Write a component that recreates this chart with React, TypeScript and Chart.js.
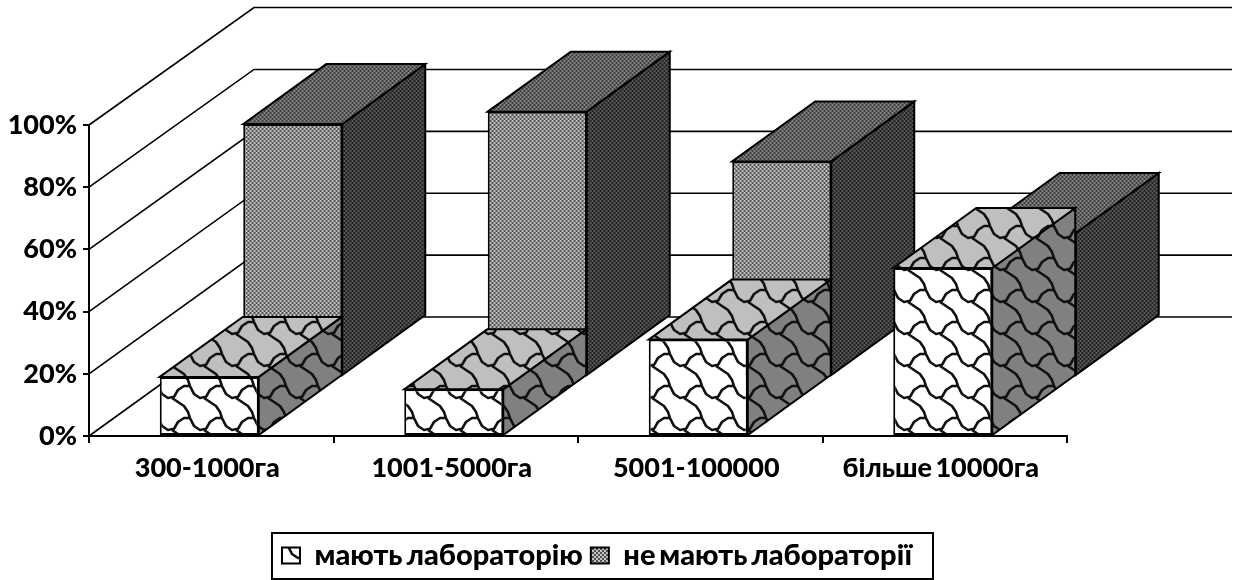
import React, { useEffect, useRef } from "react";
import { Chart, registerables } from "chart.js";

Chart.register(...registerables);

const categories = ["300-1000га", "1001-5000га", "5001-100000", "більше 10000га"];
const seriesNames = ["мають лабораторію", "не мають лабораторії"];
const haveLab = [19, 15, 31, 54];
const noLab = [81, 85, 69, 46];
const yTicks = [0, 20, 40, 60, 80, 100];

const FONT = "Lato, 'Open Sans', sans-serif";
const WEIGHT = 900;
const DEPTH_X = 83;
const DEPTH_Y = 60;
const INK = "#000000";

function tile(w: number, h: number, draw: (c: CanvasRenderingContext2D) => void) {
  const cv = document.createElement("canvas");
  cv.width = w;
  cv.height = h;
  const c = cv.getContext("2d")!;
  draw(c);
  return c.createPattern(cv, "repeat")!;
}

function shingle(bg: string) {
  const S = 32;
  const u = S / 8;
  return tile(S, S, (c) => {
    c.fillStyle = bg;
    c.fillRect(0, 0, S, S);
    c.strokeStyle = "#111";
    c.lineWidth = 2.6;
    c.lineJoin = "round";
    for (const ox of [-S, 0, S]) {
      for (const oy of [-S, 0, S]) {
        c.beginPath();
        c.moveTo(ox + 8 * u, oy + 0.5 * u);
        c.lineTo(ox + 6.5 * u, oy + 0.5 * u);
        c.lineTo(ox + 5 * u, oy + 1.5 * u);
        c.lineTo(ox + 4 * u, oy + 3.2 * u);
        c.lineTo(ox + 2.5 * u, oy + 3.5 * u);
        c.lineTo(ox + 1 * u, oy + 2.5 * u);
        c.lineTo(ox + 0 * u, oy + 0.5 * u);
        c.stroke();
        c.beginPath();
        c.moveTo(ox + 3.5 * u, oy + 3.5 * u);
        c.lineTo(ox + 5 * u, oy + 4.5 * u);
        c.lineTo(ox + 6.5 * u, oy + 5.5 * u);
        c.lineTo(ox + 7.5 * u, oy + 7 * u);
        c.lineTo(ox + 8 * u, oy + 8.5 * u);
        c.stroke();
      }
    }
  });
}

function dots(bg: string, fg: string) {
  return tile(4, 4, (c) => {
    c.fillStyle = bg;
    c.fillRect(0, 0, 4, 4);
    c.fillStyle = fg;
    c.fillRect(0, 0, 2, 2);
    c.fillRect(2, 2, 2, 2);
  });
}

export default function App() {
  const ref = useRef<HTMLCanvasElement>(null);

  useEffect(() => {
    document.body.style.margin = "0";
    const faces = [
      { front: shingle("#ffffff"), top: shingle("#bfbfbf"), side: shingle("#808080"), dx: -2, dy: 0 },
      { front: dots("#c4c4c4", "#505050"), top: dots("#848484", "#3c3c3c"), side: dots("#585858", "#222222"), dx: DEPTH_X - 1.5, dy: -DEPTH_Y },
    ];

    const poly = (c: CanvasRenderingContext2D, pts: number[][], fill: CanvasPattern) => {
      c.beginPath();
      pts.forEach((p, i) => (i ? c.lineTo(p[0], p[1]) : c.moveTo(p[0], p[1])));
      c.closePath();
      c.fillStyle = fill;
      c.fill();
      c.strokeStyle = INK;
      c.lineWidth = 2;
      c.lineJoin = "miter";
      c.stroke();
    };

    const plugin = {
      id: "depth3d",
      beforeDraw(chart: any) {
        (chart.ctx as any).wordSpacing = "-3px";
      },
      afterLayout(chart: any) {
        const lg = chart.legend;
        lg.left += 68;
        lg.right += 68;
        lg.adjustHitBoxes();
      },
      beforeDatasetsDraw(chart: any) {
        const c: CanvasRenderingContext2D = chart.ctx;
        const { y, x } = chart.scales;
        c.save();
        c.strokeStyle = INK;
        c.lineWidth = 1.6;
        yTicks.forEach((t) => {
          const py = y.getPixelForValue(t);
          const by = 317 - (y.bottom - py) * 0.995;
          c.beginPath();
          c.moveTo(x.left, py);
          c.lineTo(x.left + 165, by);
          c.lineTo(1232, by);
          c.stroke();
        });
        c.restore();
      },
      beforeDatasetDraw(chart: any, args: any) {
        const c: CanvasRenderingContext2D = chart.ctx;
        const f = faces[args.index];
        c.save();
        c.translate(f.dx, f.dy);
        args.meta.data.forEach((bar: any) => {
          const { x, y, width, base } = bar.getProps(["x", "y", "width", "base"], true);
          const l = x - width / 2;
          const r = x + width / 2;
          poly(c, [[r, y], [r + DEPTH_X, y - DEPTH_Y], [r + DEPTH_X, base - DEPTH_Y], [r, base]], f.side);
          poly(c, [[l, y], [l + DEPTH_X, y - DEPTH_Y], [r + DEPTH_X, y - DEPTH_Y], [r, y]], f.top);
        });
      },
      afterDatasetDraw(chart: any) {
        chart.ctx.restore();
      },
      afterDraw(chart: any) {
        const lg = chart.legend;
        const c: CanvasRenderingContext2D = chart.ctx;
        const first = lg.legendHitBoxes[0];
        const last = lg.legendHitBoxes[lg.legendHitBoxes.length - 1];
        const left = first.left - 10;
        c.save();
        c.strokeStyle = INK;
        c.lineWidth = 2;
        c.strokeRect(left, lg.top, last.left + last.width + 12 - left, lg.height - 1);
        c.restore();
      },
    };

    const barBase = {
      borderColor: INK,
      borderWidth: 2,
      borderSkipped: false,
      grouped: false,
      clip: false,
      categoryPercentage: 1,
      barPercentage: 0.405,
    };

    const chart = new Chart(ref.current!, {
      type: "bar",
      data: {
        labels: categories,
        datasets: [
          { ...barBase, label: seriesNames[0], data: haveLab, backgroundColor: faces[0].front },
          { ...barBase, label: seriesNames[1], data: noLab, backgroundColor: faces[1].front },
        ] as any,
      },
      options: {
        animation: false,
        responsive: false,
        layout: { padding: { top: 125, right: 168, left: 0, bottom: 0 } },
        plugins: {
          title: { display: false },
          tooltip: { enabled: false },
          legend: {
            position: "bottom",
            labels: {
              color: INK,
              boxWidth: 18,
              boxHeight: 16,
              padding: 8,
              font: { family: FONT, size: 29, weight: WEIGHT },
            },
          },
        },
        scales: {
          x: {
            afterFit(s: any) {
              s.height = 97;
            },
            ticks: { color: INK, font: { family: FONT, size: 27, weight: WEIGHT }, padding: 9, maxRotation: 0, labelOffset: -4 },
            grid: { drawOnChartArea: false, drawTicks: true, tickLength: 7, color: INK, lineWidth: 2, offset: true },
            border: { color: INK, width: 2 },
          },
          y: {
            min: 0,
            max: 100,
            afterFit(s: any) {
              s.width = 89;
            },
            afterBuildTicks(s: any) {
              s.ticks = yTicks.map((value) => ({ value }));
            },
            ticks: {
              color: INK,
              font: { family: FONT, size: 27, weight: WEIGHT },
              padding: 6,
              callback: (v: any) => v + "%",
            },
            grid: { drawOnChartArea: false, drawTicks: true, tickLength: 6, color: INK, lineWidth: 2 },
            border: { color: INK, width: 2 },
          },
        },
      },
      plugins: [plugin],
    } as any);
    return () => chart.destroy();
  }, []);

  return <canvas ref={ref} width={1235} height={580} style={{ display: "block" }} />;
}
